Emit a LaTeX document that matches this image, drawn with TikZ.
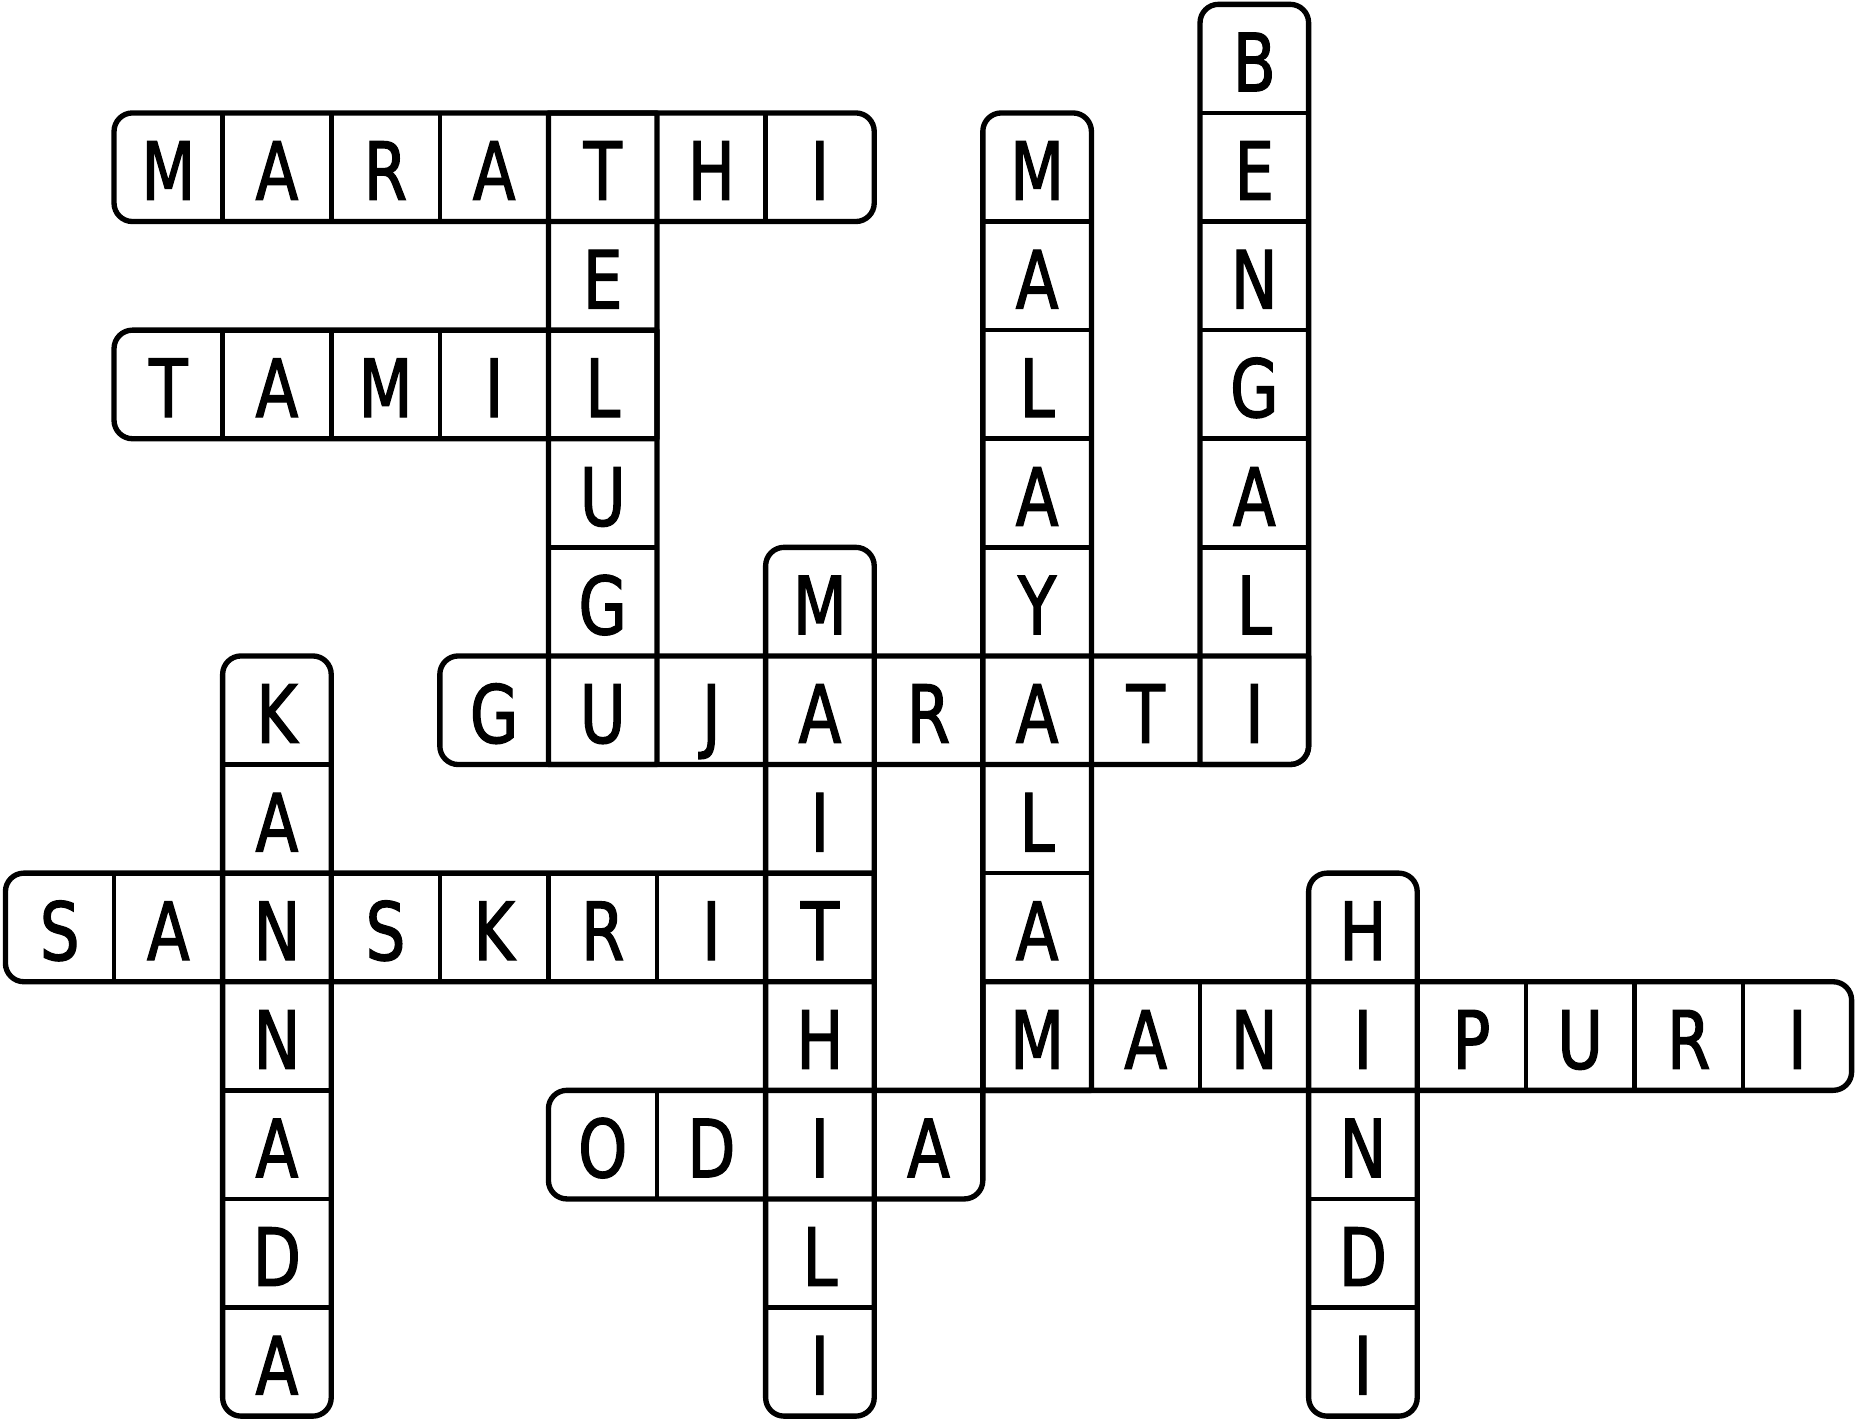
\documentclass[tikz,border=0pt]{standalone}
\usepackage{fontspec}
\setmainfont{DejaVu Sans}[FakeStretch=0.78,FakeBold=1.6]
\def\rndR{0.17}
\def\sqR{0.001}
\tikzset{
  outline/.style={draw=black, line width=1.4pt, line join=round},
  divider/.style={draw=black, line width=1.2pt},
  letter/.style={font=\fontsize{21}{21}\selectfont, anchor=base, inner sep=0pt, text=black},
}
% #1 col, #2 row, #3 width, #4 height, #5 rTL, #6 rTR, #7 rBR, #8 rBL
\newcommand{\wbox}[8]{%
  \draw[outline] ({#1+#5},{-#2}) -- ({#1+#3-#6},{-#2})
    arc[start angle=90,end angle=0,radius=#6]
    -- ({#1+#3},{-#2-#4+#7})
    arc[start angle=0,end angle=-90,radius=#7]
    -- ({#1+#8},{-#2-#4})
    arc[start angle=270,end angle=180,radius=#8]
    -- ({#1},{-#2-#5})
    arc[start angle=180,end angle=90,radius=#5] -- cycle;}
\begin{document}
\begin{tikzpicture}
\useasboundingbox (-0.05,0.04) rectangle (17.031,-13.082);
% dividers
\foreach \i in {2,...,7} \draw[divider] (\i,-1) -- (\i,-2);      % MARATHI
\foreach \j in {2,...,6} \draw[divider] (5,-\j) -- (6,-\j);      % TELUGU
\foreach \i in {2,...,5} \draw[divider] (\i,-3) -- (\i,-4);      % TAMIL
\foreach \j in {2,...,9} \draw[divider] (9,-\j) -- (10,-\j);     % MALAYALAM
\foreach \j in {1,...,6} \draw[divider] (11,-\j) -- (12,-\j);    % BENGALI
\foreach \i in {5,...,11} \draw[divider] (\i,-6) -- (\i,-7);     % GUJARATI
\foreach \j in {6,...,12} \draw[divider] (7,-\j) -- (8,-\j);     % MAITHILI
\foreach \j in {7,...,12} \draw[divider] (2,-\j) -- (3,-\j);     % KANNADA
\foreach \i in {1,...,7} \draw[divider] (\i,-8) -- (\i,-9);      % SANSKRIT
\foreach \i in {10,...,16} \draw[divider] (\i,-9) -- (\i,-10);   % MANIPURI
\foreach \j in {9,...,12} \draw[divider] (12,-\j) -- (13,-\j);   % HINDI
\foreach \i in {6,...,8} \draw[divider] (\i,-10) -- (\i,-11);    % ODIA
% word outlines
\wbox{1}{1}{7}{1}{\rndR}{\rndR}{\rndR}{\rndR}   % MARATHI
\wbox{5}{1}{1}{6}{\sqR}{\sqR}{\sqR}{\sqR}       % TELUGU
\wbox{1}{3}{5}{1}{\rndR}{\sqR}{\sqR}{\rndR}     % TAMIL
\wbox{9}{1}{1}{9}{\rndR}{\rndR}{\sqR}{\sqR}     % MALAYALAM
\wbox{11}{0}{1}{7}{\rndR}{\rndR}{\rndR}{\sqR}   % BENGALI
\wbox{4}{6}{8}{1}{\rndR}{\sqR}{\rndR}{\rndR}    % GUJARATI
\wbox{7}{5}{1}{8}{\rndR}{\rndR}{\rndR}{\rndR}   % MAITHILI
\wbox{2}{6}{1}{7}{\rndR}{\rndR}{\rndR}{\rndR}   % KANNADA
\wbox{0}{8}{8}{1}{\rndR}{\sqR}{\sqR}{\rndR}     % SANSKRIT
\wbox{9}{9}{8}{1}{\sqR}{\rndR}{\rndR}{\sqR}     % MANIPURI
\wbox{12}{8}{1}{5}{\rndR}{\rndR}{\rndR}{\rndR}  % HINDI
\wbox{5}{10}{4}{1}{\rndR}{\sqR}{\rndR}{\rndR}   % ODIA
% letters
\foreach \c/\r/\l in {
  11/0/B,
  1/1/M, 2/1/A, 3/1/R, 4/1/A, 5/1/T, 6/1/H, 7/1/I, 9/1/M, 11/1/E,
  5/2/E, 9/2/A, 11/2/N,
  1/3/T, 2/3/A, 3/3/M, 4/3/I, 5/3/L, 9/3/L, 11/3/G,
  5/4/U, 9/4/A, 11/4/A,
  5/5/G, 7/5/M, 9/5/Y, 11/5/L,
  2/6/K, 4/6/G, 5/6/U, 6/6/J, 7/6/A, 8/6/R, 9/6/A, 10/6/T, 11/6/I,
  2/7/A, 7/7/I, 9/7/L,
  0/8/S, 1/8/A, 2/8/N, 3/8/S, 4/8/K, 5/8/R, 6/8/I, 7/8/T, 9/8/A, 12/8/H,
  2/9/N, 7/9/H, 9/9/M, 10/9/A, 11/9/N, 12/9/I, 13/9/P, 14/9/U, 15/9/R, 16/9/I,
  2/10/A, 5/10/O, 6/10/D, 7/10/I, 8/10/A, 12/10/N,
  2/11/D, 7/11/L, 12/11/D,
  2/12/A, 7/12/I, 12/12/I}
  \node[letter] (L\c-\r) at (\c+0.5,-\r-0.80) {\l};
\end{tikzpicture}
\end{document}
